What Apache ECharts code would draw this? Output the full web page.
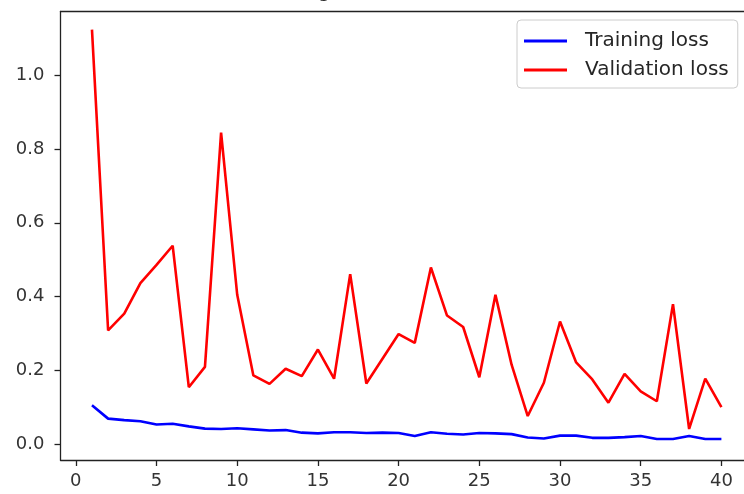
<!DOCTYPE html>
<html>
<head>
<meta charset="utf-8">
<script src="https://cdn.jsdelivr.net/npm/echarts@6/dist/echarts.min.js"></script>
<style>
html,body{margin:0;padding:0;background:#fff;}
#chart{width:744px;height:494px;}
</style>
</head>
<body>
<div id="chart"></div>
<script>
const titleText = "Training and validation loss";
const seriesNames = ["Training loss", "Validation loss"];
const epochs = [1,2,3,4,5,6,7,8,9,10,11,12,13,14,15,16,17,18,19,20,21,22,23,24,25,26,27,28,29,30,31,32,33,34,35,36,37,38,39,40];
const trainingLoss = [0.106,0.070,0.066,0.063,0.054,0.056,0.049,0.043,0.042,0.044,0.041,0.038,0.039,0.032,0.030,0.033,0.033,0.031,0.032,0.031,0.023,0.033,0.029,0.027,0.031,0.030,0.028,0.019,0.016,0.024,0.024,0.018,0.018,0.020,0.023,0.015,0.015,0.023,0.015,0.015];
const validationLoss = [1.123,0.309,0.354,0.437,0.486,0.538,0.155,0.210,0.844,0.405,0.187,0.164,0.205,0.185,0.257,0.178,0.461,0.165,0.232,0.299,0.275,0.479,0.349,0.318,0.182,0.405,0.216,0.077,0.167,0.333,0.222,0.176,0.113,0.191,0.144,0.117,0.380,0.042,0.178,0.101];
const xTicks = [0,5,10,15,20,25,30,35,40];
const yTicks = [0.0,0.2,0.4,0.6,0.8,1.0];

const chart = echarts.init(document.getElementById('chart'), null, {renderer:'canvas'});
const font = "'DejaVu Sans', sans-serif";
const frameColor = '#222';
const labelColor = '#333';

function pairs(ys){ return epochs.map((e,i)=>[e, ys[i]]); }

chart.setOption({
  animation: false,
  backgroundColor: '#ffffff',
  graphic: [{
    type: 'text', left: 250, top: -19, silent: true, z: 0,
    style: { text: titleText, fontSize: 20.5, fontFamily: font, fill: '#222' }
  }],
  grid: {
    left: 60.5, top: 11.5, right: 0, bottom: 34,
    outerBoundsMode: 'none', containLabel: false
  },
  legend: {
    orient: 'vertical', left: 517, top: 20,
    padding: [11, 9, 8, 7], itemGap: 9,
    itemWidth: 43, itemHeight: 3, icon: 'rect',
    backgroundColor: 'rgba(255,255,255,0.8)', borderColor: '#cccccc', borderWidth: 1, borderRadius: 4,
    textStyle: { fontSize: 20, fontFamily: font, color: '#262626', padding: [0,0,0,13] },
    data: seriesNames
  },
  xAxis: [{
    type: 'value', min: -0.95, max: 41.40, position: 'bottom',
    axisLine: { show: true, onZero: false, lineStyle: { color: frameColor, width: 1.3 } },
    axisTick: { show: true, length: 6, lineStyle: { color: frameColor, width: 1.3 }, customValues: xTicks },
    axisLabel: { fontSize: 18, fontFamily: font, color: labelColor, margin: 12, customValues: xTicks, formatter: v => String(v) },
    splitLine: { show: false }
  }, {
    type: 'value', min: -0.95, max: 41.40, position: 'top',
    axisLine: { show: true, onZero: false, lineStyle: { color: frameColor, width: 1.3 } },
    axisTick: { show: false }, axisLabel: { show: false }, splitLine: { show: false }
  }],
  yAxis: {
    type: 'value', min: -0.042, max: 1.172,
    axisLine: { show: true, onZero: false, lineStyle: { color: frameColor, width: 1.3 } },
    axisTick: { show: true, length: 6, lineStyle: { color: frameColor, width: 1.3 }, customValues: yTicks },
    axisLabel: { fontSize: 18, fontFamily: font, color: labelColor, margin: 16, customValues: yTicks, formatter: v => v.toFixed(1) },
    splitLine: { show: false }
  },
  series: [
    { name: seriesNames[0], type: 'line', data: pairs(trainingLoss), showSymbol: false, symbol: 'none',
      lineStyle: { color: '#0000ff', width: 2.6 }, itemStyle: { color: '#0000ff' } },
    { name: seriesNames[1], type: 'line', data: pairs(validationLoss), showSymbol: false, symbol: 'none',
      lineStyle: { color: '#ff0000', width: 2.6 }, itemStyle: { color: '#ff0000' } }
  ]
});
</script>
</body>
</html>
